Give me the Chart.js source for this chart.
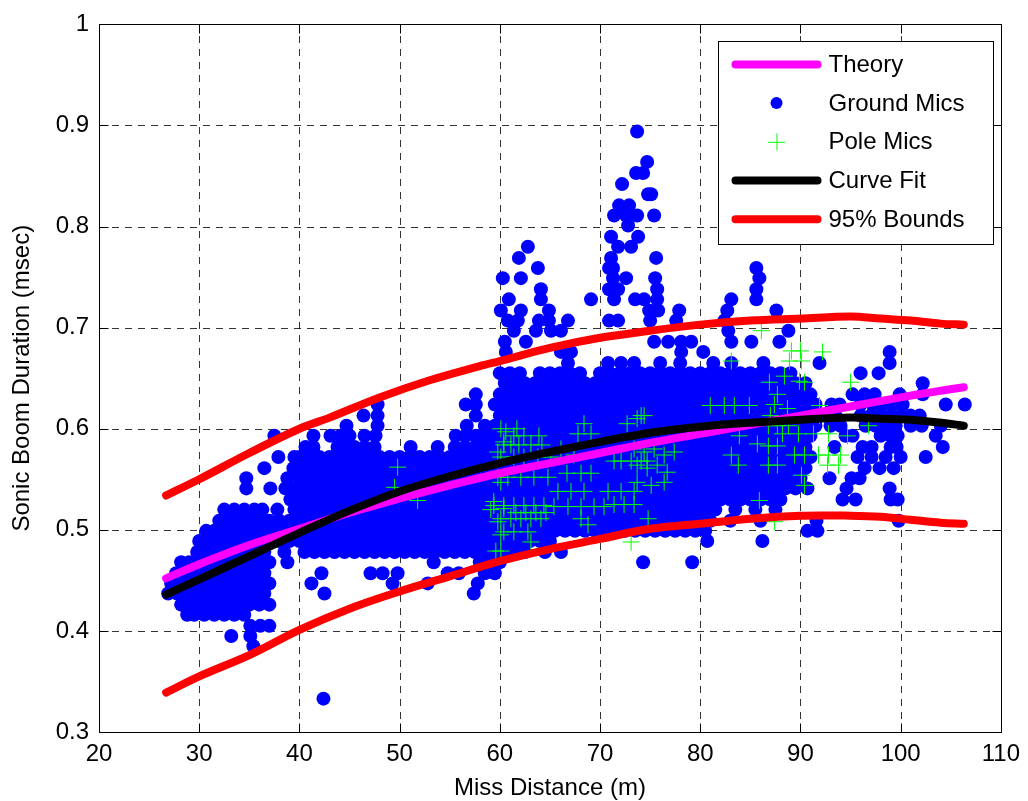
<!DOCTYPE html>
<html>
<head>
<meta charset="utf-8">
<title>Sonic Boom Duration vs Miss Distance</title>
<script src="https://cdn.jsdelivr.net/npm/chart.js@4.4.1/dist/chart.umd.min.js"></script>
<style>
  html, body { margin: 0; padding: 0; background: #ffffff; }
  canvas { display: block; }
</style>
</head>
<body>
<canvas id="chart" width="1028" height="801" style="width:1028px;height:801px"></canvas>
<script>
// Axis ranges and tick spacing
const xRange = [20, 110];
const yRange = [0.3, 1.0];
const xStep = 10;
const yStep = 0.1;

// Theoretical duration curve
const theoryX = [26.7, 30, 35, 40, 45, 50, 55, 60, 65, 70, 75, 80, 85, 90, 95, 100, 103, 106.3];
const theoryY = [0.452, 0.466, 0.485, 0.501, 0.517, 0.531, 0.544, 0.556, 0.566, 0.576, 0.586, 0.595, 0.604, 0.613, 0.622, 0.631, 0.636, 0.641];

// Least-squares fit to the measurements
const fitX = [26.7, 30, 35, 40, 45, 50, 55, 60, 65, 70, 75, 80, 85, 90, 95, 98, 101, 104, 106.3];
const fitY = [0.436, 0.451, 0.474, 0.497, 0.519, 0.538, 0.553, 0.566, 0.577, 0.587, 0.596, 0.602, 0.606, 0.609, 0.611, 0.610, 0.609, 0.606, 0.603];

// 95% prediction bounds of the fit
const upperX = [26.7, 30, 35, 40, 43, 48, 53, 58, 60, 65, 70, 75, 80, 85, 90, 95, 98, 101, 104, 106.3];
const upperY = [0.534, 0.550, 0.576, 0.600, 0.611, 0.631, 0.648, 0.662, 0.667, 0.680, 0.690, 0.697, 0.703, 0.707, 0.709, 0.711, 0.709, 0.707, 0.704, 0.703];
const lowerX = [26.7, 30, 35, 40, 45, 50, 55, 60, 65, 70, 75, 80, 85, 90, 95, 98, 101, 104, 106.3];
const lowerY = [0.339, 0.355, 0.376, 0.401, 0.422, 0.439, 0.454, 0.469, 0.481, 0.491, 0.501, 0.506, 0.511, 0.514, 0.514, 0.513, 0.510, 0.507, 0.506];

// Ground microphones: each row is one recorded duration (msec)
// followed by the miss distances (m) at which it was measured.
const groundMicRows = [
  [0.894, "73.7"],
  [0.864, "74.7"],
  [0.853, "73.6 74.3"],
  [0.842, "72.2"],
  [0.832, "74.8 75.1"],
  [0.821, "71.9 72.9"],
  [0.811, "71.4 72.6 73.7 75.4"],
  [0.801, "72.8"],
  [0.790, "71.1 73.8"],
  [0.780, "62.8 71.8 73.1"],
  [0.769, "61.9 71.1 75.6"],
  [0.759, "63.8 70.9 71.3 85.6"],
  [0.749, "60.3 62.1 71.3 72.6 75.5 85.9"],
  [0.738, "64.1 70.9 71.8 75.7 85.6"],
  [0.728, "60.9 64.1 69.1 71.4 73.5 74.4 75.7 83.1 85.6"],
  [0.717, "60.1 62.1 64.9 74.9 75.8 77.9 82.7 87.6"],
  [0.707, "60.8 61.8 63.9 64.9 66.8 70.9 71.8 75.0 77.6 82.4"],
  [0.697, "61.4 63.6 65.1 66.1 82.8 88.8"],
  [0.686, "60.5 62.6 75.4 76.8 78.1 79.1 83.1 85.1 87.9"],
  [0.676, "60.6 66.1 67.1 78.1 80.3 98.9"],
  [0.665, "66.8 70.8 72.1 73.4 76 78 81.3 83.1 86.3 91.9 98.9"],
  [0.655, "60 61 62 64 65 66 67 68 70 71 72 73 74 75 76 77 78 79 80 81 82 83 84 85 86 87 88 89 96 97.8"],
  [0.645, "60.5 61.5 62.5 63.5 64.5 65.5 66.5 67.5 68.5 69.5 70.5 71.5 72.5 73.5 74.5 75.5 76.5 77.5 78.5 79.5 80.5 81.5 82.5 83.5 84.5 85.5 86.5 87.5 88.5 89.5 90.5 102.2"],
  [0.634, "57.6 60 61 62 63 64 65 66 67 68 69 70 71 72 73 74 75 76 77 78 79 80 81 82 83 84 85 86 87 88 89 90 91 95.2 96.4 97.4 99.9 102.2"],
  [0.624, "47.8 56.6 57.6 59.5 60.5 61.5 62.5 63.5 64.5 65.5 66.5 67.5 68.5 69.5 70.5 71.5 72.5 73.5 74.5 75.5 76.5 77.5 78.5 79.5 80.5 81.5 82.5 83.5 84.5 85.5 86.5 87.5 88.5 89.5 90.5 91.5 93.1 93.9 96 97.2 98.2 99.2 100.2 104.5 106.4"],
  [0.613, "46.4 47.8 57.6 60 61 62 63 64 65 66 67 68 69 70 71 72 73 74 75 76 77 78 79 80 81 82 83 84 85 86 87 88 89 90 91 92 93.5 96 97 98 99 100 101 101.9"],
  [0.603, "44.7 47.8 56.7 58.5 59.5 60.5 61.5 62.5 63.5 64.5 65.5 66.5 67.5 68.5 69.5 70.5 71.5 72.5 73.5 74.5 75.5 76.5 77.5 78.5 79.5 80.5 81.5 82.5 83.5 84.5 85.5 86.5 87.5 88.5 89.5 90.5 91.5 93 94 96.5 97.5 98.5 99.5 101 102.1 104"],
  [0.593, "37.5 41.4 43.1 44.1 45 46.5 47.6 55.6 56.6 57.6 58 59 60 61 62 63 64 65 66 67 68 69 70 71 72 73 74 75 76 77 78 79 80 81 82 83 84 85 86 87 88 89 90 91 94.5 95.2 98 99 99.7 103.5"],
  [0.582, "40.6 41.4 43.8 44.5 45.5 46.5 47.5 51.1 53.8 55.5 56.5 57.5 58.5 59.5 60.5 61.5 62.5 63.5 64.5 65.5 66.5 67.5 68.5 69.5 70.5 71.5 72.5 73.5 74.5 75.5 76.5 77.5 78.5 79.5 80.5 81.5 82.5 83.5 84.5 85.5 86.5 87.5 88.5 89.5 90.5 93.4 96.2 97.1 99 99.6 104.2"],
  [0.572, "37.9 39.5 40 41 42 43 44 45 46 47 48 49 50 51 52 53 54 55 56 57 58 59 60 61 62 63 64 65 66 67 68 69 70 71 72 73 74 75 76 77 78 79 80 81 82 83 84 85 86 87 88 89 90 91 95.7 97.1 98.5 100 102.5"],
  [0.561, "36.5 39.4 40.5 41.5 42.5 43.5 44.5 45.5 46.5 47.5 48.5 49.5 50.5 51.5 52.5 53.5 54.5 55.5 56.5 57.5 58.5 59.5 60.5 61.5 62.5 63.5 64.5 65.5 66.5 67.5 68.5 69.5 70.5 71.5 72.5 73.5 74.5 75.5 76.5 77.5 78.5 79.5 80.5 81.5 82.5 83.5 84.5 85.5 86.5 87.5 88.5 89.5 90.5 96.4 97.9 99.3"],
  [0.551, "34.7 38.8 40 41 42 43 44 45 46 47 48 49 50 51 52 53 54 55 56 57 58 59 60 61 62 63 64 65 66 67 68 69 70 71 72 73 74 75 76 77 78 79 80 81 82 83 84 85 86 87 88 89 90 92.9 95.1 95.9"],
  [0.541, "34.7 37.1 38.6 39.6 40.5 41.5 42.5 43.5 44.5 45.5 46.5 47.5 48.5 49.5 50.5 51.5 52.5 53.5 54.5 55.5 56.5 57.5 58.5 59.5 60.5 61.5 62.5 63.5 64.5 65.5 66.5 67.5 68.5 69.5 70.5 71.5 72.5 73.5 74.5 75.5 76.5 77.5 78.5 79.5 80.5 81.5 82.5 83.5 84.5 85.5 86.5 87.5 88.5 89.5 90.7 94.6 98.9"],
  [0.530, "39.1 40 41 42 43 44 45 46 47 48 49 50 51 52 53 54 55 56 57 58 59 60 61 62 63 64 65 66 67 68 69 70 71 72 73 74 75 76 77 78 79 80 81 82 83 84 85 86 87 88 94.2 95.5 99 99.7"],
  [0.520, "32.5 33.5 34.5 35.5 36.3 37.8 39.5 40.5 41.5 42.5 43.5 44.5 45.5 46.5 47.5 48.5 49.5 50.5 51.5 52.5 53.5 54.5 55.5 56.5 57.5 58.5 59.5 60.5 61.5 62.5 63.5 64.5 65.5 66.5 67.5 68.5 69.5 70.5 71.5 72.5 73.5 74.5 75.5 76.5 77.5 78.5 79.5 80.5 81.5 83.5 85.5 87.5"],
  [0.509, "32 33 34 35 36 37 38 39 40 41 42 43 44 45 46 47 48 49 50 51 52 53 54 55 56 57 58 59 60 61 62 63 64 65 66 67 68 69 70 71 72 73 74 75 76 77 78 79 80 81 83 86 91.6 99.8"],
  [0.499, "30.7 31.5 32.5 33.5 34.5 35.5 36.5 37.5 38.5 39.5 40.5 41.5 42.5 43.5 44.5 45.5 46.5 47.5 48.5 49.5 50.5 51.5 52.5 53.5 54.5 55.5 56.5 57.5 58.5 59.5 60.5 61.5 62.5 63.5 64.5 65.5 66.5 67.5 68.5 69.5 70.5 71.5 72.5 73.5 74.5 75.5 76.5 77.5 78.5 79.5 80.5 90.7 91.7"],
  [0.489, "30 31 32 33 34 35 36 37 38 39 40 41 42 43 44 45 46 47 48 49 50 51 52 53 54 55 56 57 58 59 60 61 62 63 64 65 80.7 86.2"],
  [0.478, "29.8 30.5 31.5 32.5 33.5 34.5 35.5 36.5 38.5 40.5 41.5 42.5 43.5 44.5 45.5 46.5 47.5 48.5 49.5 50.5 51.5 52.5 53.5 54.5 55.5 56.5 57.5 58.5 59.5 60.5 61.5 62.5 64.5 66.1"],
  [0.468, "28.2 29 30 31 32 33 34 35 36 37 38.8 53.4 58 59 60 74.3 79.2"],
  [0.457, "27.7 28.5 29.5 30.5 31.5 32.5 33.5 34.5 35.5 36.5 42.2 47.1 48.3 49.8 54.8 55.9 58.5 59.5"],
  [0.447, "27.2 28 29 30 31 32 33 34 35 36 37 41.2 49.3 52.8 57.8"],
  [0.437, "26.9 27.8 28.5 29.5 30.5 31.5 32.5 33.5 34.5 35.5 36.5 42.5 57.4"],
  [0.426, "28.2 29 30 31 32 33 34 35 36 37"],
  [0.416, "28.8 29.5 30.5 31.5 32.5 33.5 34.5"],
  [0.405, "35.1 36.1 37.0"],
  [0.395, "33.2 35.1"],
  [0.385, "35.4"],
  [0.333, "42.4"]
];

// Pole microphones (miss distance m, duration msec)
const poleX = [49.8, 49.5, 51.8, 60.4, 59.8, 60.1, 59.6, 59.1, 60.6, 59.4, 60.4, 59.8, 60.1,
  68.4, 67.8, 69.1, 72.7, 73.7, 74.4, 61.4, 62.4, 63.9, 60.4, 61.1, 61.9, 63.1, 64.2,
  60.1, 61.4, 62.4, 63.8, 65.1, 66.7, 68.1, 69.1, 71.4, 72.1, 73.1, 74.1, 74.7,
  59.8, 60.8, 62.1, 63.4, 64.8, 65.8, 67.1, 68.4, 70.8, 72.1, 73.4,
  59.4, 60.4, 61.4, 62.4, 63.4, 64.4, 65.4, 66.8, 68.1, 69.4, 70.4, 71.4, 72.4, 73.4,
  60.1, 61.1, 62.1, 63.1, 64.1, 60.4, 61.4, 62.8, 63.1, 60.1, 73.1, 68.1, 68.8, 66.1, 67.4,
  60.1, 61.7, 61.6, 62.6, 63.6, 64.6,
  86.1, 83.1, 89.1, 88.9, 90.1, 86.9, 88.4, 89.9, 87.7, 87.4, 74.1, 82.4, 83.4, 84.9, 88.7,
  86.8, 87.7, 88.8, 89.8, 91.3, 92.8, 83.9, 86.8, 87.7, 83.1, 83.8, 86.8, 87.7,
  89.4, 90.4, 91.8, 92.8, 90.1, 90.4, 85.9, 87.4, 74.8,
  73.4, 74.4, 75.4, 76.4, 77.4, 73.7, 74.7, 75.7, 76.7, 73.7, 75.1, 76.4,
  81.0, 85.7, 87.0, 88.2, 90.0, 90.4, 95.0, 91.9, 91.9, 94.7, 96.8, 94.0, 92.7, 93.8, 92.2];
const poleY = [0.562, 0.542, 0.529, 0.587, 0.577, 0.547, 0.479, 0.520, 0.597, 0.528, 0.521, 0.508, 0.495,
  0.605, 0.595, 0.595, 0.605, 0.610, 0.613, 0.593, 0.593, 0.593, 0.584, 0.584, 0.584, 0.584, 0.584,
  0.572, 0.572, 0.572, 0.572, 0.572, 0.556, 0.556, 0.556, 0.568, 0.568, 0.568, 0.568, 0.568,
  0.552, 0.552, 0.552, 0.552, 0.552, 0.538, 0.538, 0.538, 0.538, 0.538, 0.538,
  0.524, 0.524, 0.524, 0.524, 0.524, 0.524, 0.523, 0.523, 0.523, 0.523, 0.523, 0.525, 0.525, 0.525,
  0.511, 0.511, 0.511, 0.511, 0.511, 0.498, 0.498, 0.498, 0.488, 0.479, 0.488, 0.511, 0.505, 0.580, 0.574,
  0.600, 0.600, 0.517, 0.517, 0.517, 0.517,
  0.697, 0.667, 0.677, 0.667, 0.667, 0.646, 0.652, 0.647, 0.634, 0.624, 0.613, 0.623, 0.623, 0.623, 0.620,
  0.603, 0.603, 0.603, 0.595, 0.595, 0.595, 0.593, 0.583, 0.583, 0.574, 0.564, 0.564, 0.564,
  0.574, 0.574, 0.574, 0.574, 0.554, 0.544, 0.529, 0.508, 0.511,
  0.580, 0.577, 0.580, 0.574, 0.577, 0.564, 0.561, 0.564, 0.557, 0.547, 0.544, 0.547,
  0.623, 0.585, 0.613, 0.595, 0.677, 0.646, 0.646, 0.623, 0.613, 0.593, 0.603, 0.574, 0.564, 0.564, 0.676];

// Build point lists for the library
const pairs = (xs, ys) => xs.map((x, i) => ({ x: x, y: ys[i] }));
const groundPoints = [];
groundMicRows.forEach(([dur, list]) => {
  list.trim().split(/\s+/).forEach(v => groundPoints.push({ x: parseFloat(v), y: dur }));
});

const FONT = "'Liberation Sans', Arial, Helvetica, sans-serif";
Chart.defaults.font.family = FONT;
Chart.defaults.color = '#000000';

// Box, inner tick marks and dashed grid in the classic MATLAB style
const matlabAxes = {
  id: 'matlabAxes',
  beforeDatasetsDraw(chart) {
    const { ctx, chartArea: a, scales: { x, y } } = chart;
    ctx.save();
    ctx.strokeStyle = 'rgba(0,0,0,0.8)';
    ctx.lineWidth = 1;
    ctx.setLineDash([7, 6]);
    x.ticks.forEach(t => {
      if (t.value <= x.min || t.value >= x.max) return;
      const px = Math.round(x.getPixelForValue(t.value)) + 0.5;
      ctx.beginPath(); ctx.moveTo(px, a.bottom); ctx.lineTo(px, a.top); ctx.stroke();
    });
    y.ticks.forEach(t => {
      if (t.value <= y.min + 1e-9 || t.value >= y.max - 1e-9) return;
      const py = Math.round(y.getPixelForValue(t.value)) + 0.5;
      ctx.beginPath(); ctx.moveTo(a.left, py); ctx.lineTo(a.right, py); ctx.stroke();
    });
    ctx.restore();
  },
  afterDatasetsDraw(chart) {
    const { ctx, chartArea: a, scales: { x, y } } = chart;
    const L = Math.round(a.left) + 0.5, R = Math.round(a.right) + 0.5;
    const T = Math.round(a.top) + 0.5, B = Math.round(a.bottom) + 0.5;
    const tick = 9;
    ctx.save();
    ctx.setLineDash([]);
    ctx.strokeStyle = '#000000';
    ctx.lineWidth = 1;
    ctx.strokeRect(L, T, R - L, B - T);
    ctx.beginPath();
    x.ticks.forEach(t => {
      const px = Math.round(x.getPixelForValue(t.value)) + 0.5;
      ctx.moveTo(px, B); ctx.lineTo(px, B - tick);
      ctx.moveTo(px, T); ctx.lineTo(px, T + tick);
    });
    y.ticks.forEach(t => {
      const py = Math.round(y.getPixelForValue(t.value)) + 0.5;
      ctx.moveTo(L, py); ctx.lineTo(L + tick, py);
      ctx.moveTo(R, py); ctx.lineTo(R - tick, py);
    });
    ctx.stroke();
    ctx.restore();
  }
};

// Legend box inside the upper right of the axes
const insetLegend = {
  id: 'insetLegend',
  afterDraw(chart) {
    const { ctx, chartArea: a } = chart;
    const ds = chart.data.datasets;
    const boxL = Math.round(a.right - 283) + 0.5;
    const boxT = Math.round(a.top + 17) + 0.5;
    const boxW = 275, boxH = 203;
    const rowH = 38.7, firstRow = a.top + 40;
    const sampleL = boxL + 13, sampleR = boxL + 103, textX = boxL + 110;
    ctx.save();
    ctx.fillStyle = '#ffffff';
    ctx.fillRect(boxL, boxT, boxW, boxH);
    ctx.strokeStyle = '#000000';
    ctx.lineWidth = 1;
    ctx.strokeRect(boxL, boxT, boxW, boxH);
    ctx.font = '24px ' + FONT;
    ctx.textBaseline = 'middle';
    ctx.textAlign = 'left';
    ds.filter(d => !d.legendHidden).forEach((d, i) => {
      const cy = firstRow + i * rowH;
      const mid = (sampleL + sampleR) / 2;
      if (d.legendKind === 'line') {
        ctx.strokeStyle = d.borderColor;
        ctx.lineWidth = d.borderWidth;
        ctx.lineCap = 'round';
        ctx.beginPath(); ctx.moveTo(sampleL + 4, cy); ctx.lineTo(sampleR - 4, cy); ctx.stroke();
      } else if (d.legendKind === 'dot') {
        ctx.fillStyle = d.backgroundColor;
        ctx.beginPath(); ctx.arc(mid, cy, 6, 0, Math.PI * 2); ctx.fill();
      } else {
        ctx.strokeStyle = d.borderColor;
        ctx.lineWidth = 1;
        ctx.lineCap = 'butt';
        const r = d.pointRadius;
        ctx.beginPath();
        ctx.moveTo(mid - r, cy + 0.5); ctx.lineTo(mid + r, cy + 0.5);
        ctx.moveTo(mid + 0.5, cy - r); ctx.lineTo(mid + 0.5, cy + r);
        ctx.stroke();
      }
      ctx.fillStyle = '#000000';
      ctx.fillText(d.label, textX, cy + 1);
    });
    ctx.restore();
  }
};

const lineStyle = (color) => ({
  type: 'line', showLine: true, borderColor: color, backgroundColor: color,
  borderWidth: 8, pointRadius: 0, pointHoverRadius: 0, fill: false,
  tension: 0.35, borderCapStyle: 'round', borderJoinStyle: 'round',
  legendKind: 'line'
});

new Chart(document.getElementById('chart'), {
  type: 'scatter',
  data: {
    datasets: [
      Object.assign(lineStyle('#ff00ff'), { label: 'Theory', data: pairs(theoryX, theoryY), order: 3 }),
      { label: 'Ground Mics', data: groundPoints, pointRadius: 7, pointHoverRadius: 7,
        backgroundColor: '#0000ff', borderWidth: 0, pointBorderWidth: 0, order: 5, legendKind: 'dot' },
      { label: 'Pole Mics', data: pairs(poleX, poleY), pointStyle: 'cross', pointRadius: 8.5,
        pointHoverRadius: 8.5, borderColor: '#00ff00', backgroundColor: '#00ff00', borderWidth: 1,
        order: 4, legendKind: 'cross' },
      Object.assign(lineStyle('#000000'), { label: 'Curve Fit', data: pairs(fitX, fitY), order: 2 }),
      Object.assign(lineStyle('#ff0000'), { label: '95% Bounds', data: pairs(upperX, upperY), order: 1 }),
      Object.assign(lineStyle('#ff0000'), { label: '95% Bounds', data: pairs(lowerX, lowerY), order: 1, legendHidden: true })
    ]
  },
  options: {
    responsive: false,
    devicePixelRatio: 1,
    animation: false,
    events: [],
    layout: { padding: { left: 0, right: 27, top: 20, bottom: 0 } },
    plugins: { legend: { display: false }, tooltip: { enabled: false } },
    scales: {
      x: {
        type: 'linear', position: 'bottom', min: xRange[0], max: xRange[1],
        grid: { display: false, drawTicks: false },
        border: { display: false },
        ticks: { stepSize: xStep, autoSkip: false, maxRotation: 0, padding: 8,
                 font: { size: 24 }, color: '#000000' },
        title: { display: true, text: 'Miss Distance (m)', color: '#000000',
                 font: { size: 24, lineHeight: 1 }, padding: { top: 0, bottom: 1 } },
        afterFit(scale) { scale.height = 69; }
      },
      y: {
        type: 'linear', position: 'left', min: yRange[0], max: yRange[1],
        grid: { display: false, drawTicks: false },
        border: { display: false },
        ticks: { stepSize: yStep, autoSkip: false, padding: 10, font: { size: 24 }, color: '#000000',
                 callback: (v) => String(Math.round(v * 10) / 10) },
        title: { display: true, text: 'Sonic Boom Duration (msec)', color: '#000000',
                 font: { size: 24, lineHeight: 1 }, padding: { top: 10, bottom: 0 } },
        afterFit(scale) { scale.width = 99; }
      }
    }
  },
  plugins: [matlabAxes, insetLegend]
});
</script>
</body>
</html>
